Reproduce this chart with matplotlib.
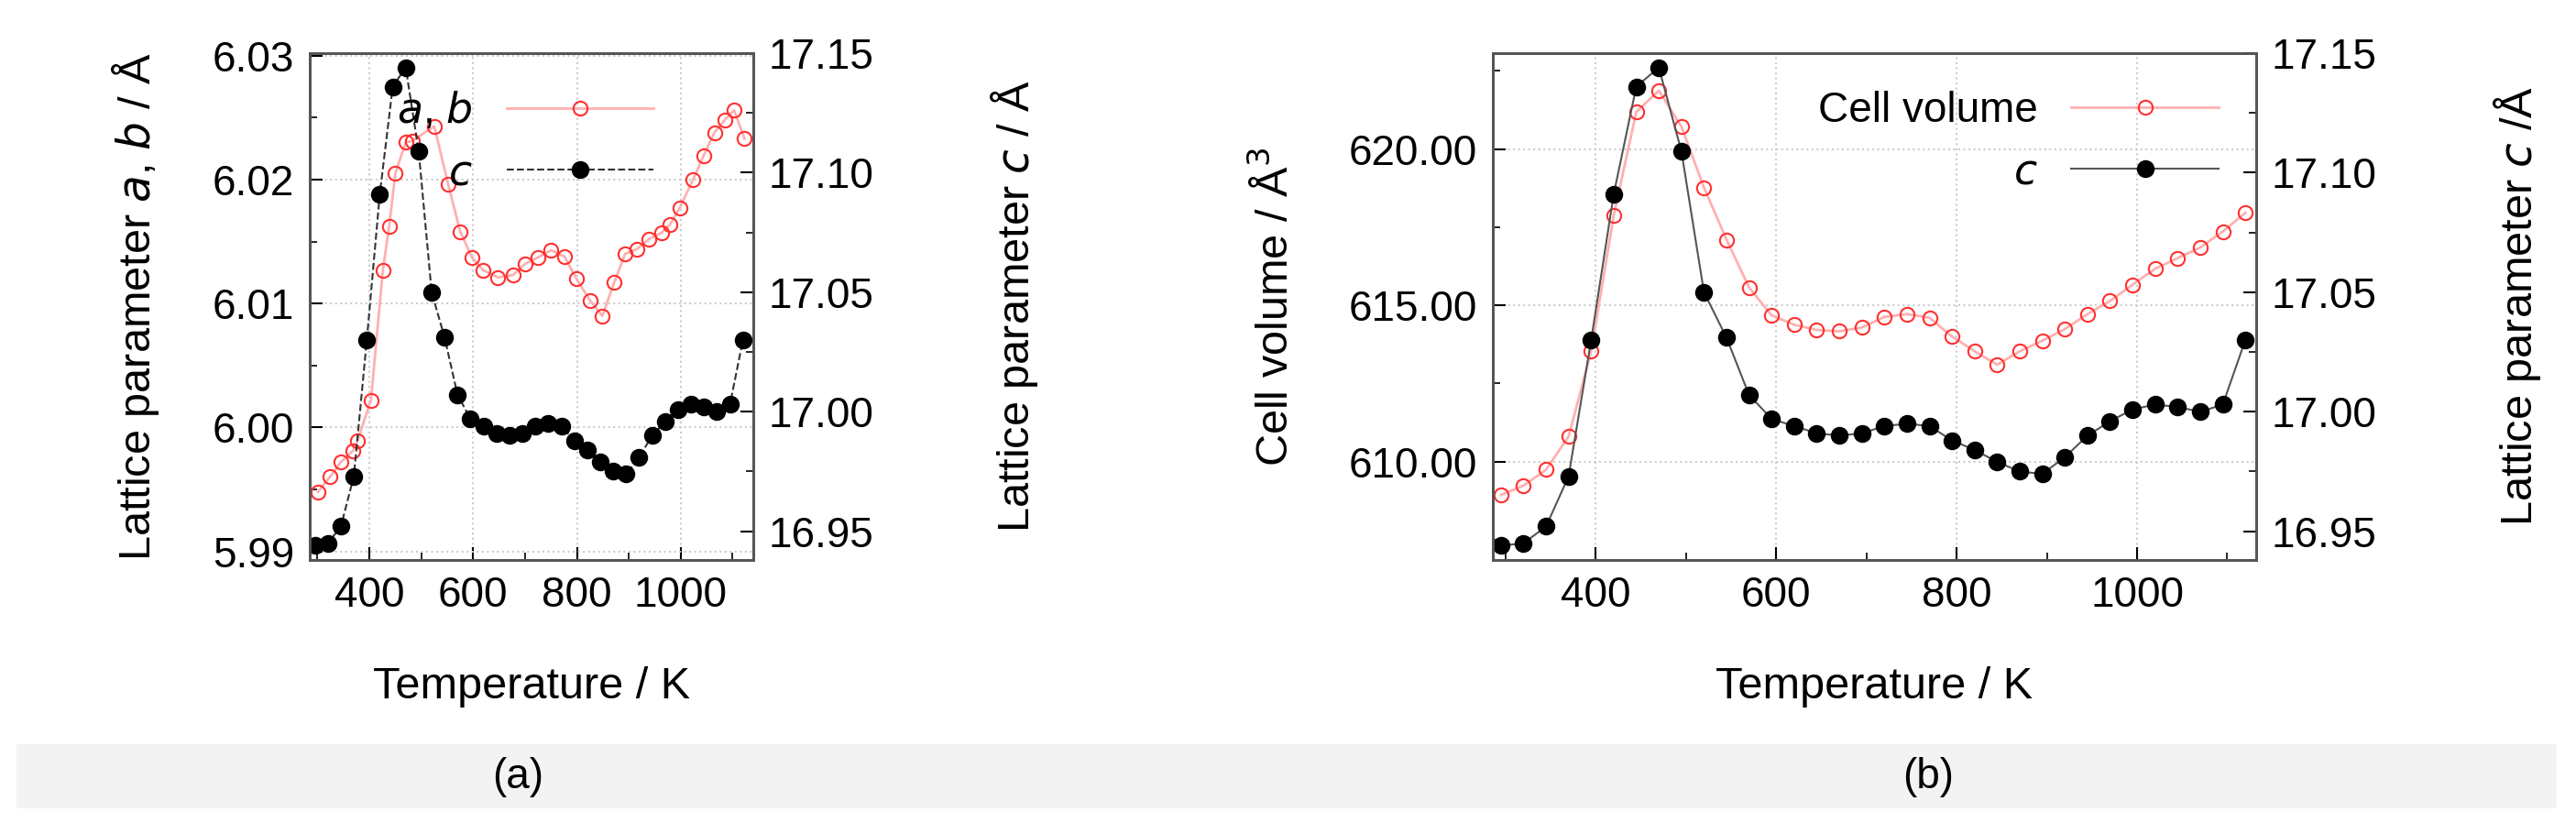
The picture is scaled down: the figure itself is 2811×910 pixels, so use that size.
import matplotlib
matplotlib.use("Agg")
import matplotlib.pyplot as plt
from matplotlib.patches import Rectangle
from matplotlib.ticker import MultipleLocator, FormatStrFormatter

plt.rcParams['font.family'] = ['Liberation Sans', 'DejaVu Sans']

# Panel (a): a, b lattice parameter
T_ab = [301, 324, 345, 368, 377, 403, 426, 438, 450, 470, 482, 525, 552, 575, 598, 619, 648, 677, 700,
        724, 750, 776, 799, 826, 849, 872, 893, 916, 939, 963, 980, 998, 1024, 1044, 1065, 1085, 1103, 1123]
ab = [5.9948, 5.9960, 5.9972, 5.9981, 5.9989, 6.0022, 6.0127, 6.0162, 6.0205, 6.0230, 6.0231, 6.0243,
      6.0196, 6.0158, 6.0137, 6.0127, 6.0121, 6.0123, 6.0132, 6.0137, 6.0143, 6.0138, 6.0120, 6.0102,
      6.0090, 6.0117, 6.0140, 6.0144, 6.0152, 6.0157, 6.0164, 6.0177, 6.0200, 6.0219, 6.0238, 6.0248,
      6.0256, 6.0233]

# c lattice parameter and cell volume
T = [295, 320, 345, 370, 395, 420, 445, 470, 495, 520, 545, 570, 595, 620, 645, 670, 695, 720,
     745, 770, 795, 820, 845, 870, 895, 920, 945, 970, 995, 1020, 1045, 1070, 1095, 1120]
c = [16.944, 16.945, 16.952, 16.973, 17.030, 17.091, 17.136, 17.144, 17.109, 17.050, 17.031, 17.007,
     16.997, 16.994, 16.991, 16.990, 16.991, 16.994, 16.995, 16.994, 16.988, 16.984, 16.979, 16.975,
     16.974, 16.981, 16.990, 16.996, 17.001, 17.003, 17.002, 17.000, 17.003, 17.030]
V = [608.93, 609.23, 609.74, 610.80, 613.53, 617.87, 621.19, 621.87, 620.72, 618.77, 617.10, 615.57,
     614.68, 614.38, 614.21, 614.17, 614.29, 614.63, 614.72, 614.60, 614.00, 613.53, 613.10, 613.53,
     613.87, 614.24, 614.72, 615.14, 615.66, 616.17, 616.51, 616.85, 617.36, 617.96]

W, H = 2811, 910
fig = plt.figure(figsize=(W/100, H/100), dpi=100)
fig.patches.append(Rectangle((18/W, 1-882/H), (2790-18)/W, 70/H, transform=fig.transFigure,
                             facecolor='#f3f3f3', edgecolor='none', zorder=0))

FS = 33
red = '#ff3030'
pink = '#ffb0b0'

def style(ax):
    ax.tick_params(direction='in', labelsize=FS, length=10, width=1.5, pad=12)
    ax.tick_params(which='minor', direction='in', length=6, width=1.2)
    for s in ax.spines.values():
        s.set_color('#555555'); s.set_linewidth(2)

def rect(x0, x1, y0, y1):
    return [x0/W, 1-y1/H, (x1-x0)/W, (y1-y0)/H]

# ---- panel (a)
ax1 = fig.add_axes(rect(338, 822, 58, 611))
ax1.plot(T_ab, ab, color=pink, lw=2, marker='o', ms=11, mfc='none', mec=red, mew=1.5,
         label=r'$\it{a}$, $\it{b}$')
ax1.set_xlim(285, 1140)
ax1.set_ylim(5.9893, 6.0302)
ax1.yaxis.set_major_locator(MultipleLocator(0.01))
ax1.yaxis.set_minor_locator(MultipleLocator(0.005))
ax1.yaxis.set_major_formatter(FormatStrFormatter('%.2f'))
ax1.xaxis.set_major_locator(MultipleLocator(200))
ax1.xaxis.set_minor_locator(MultipleLocator(100))
ax1.grid(True, color='#cccccc', ls=':', lw=1.5)
ax1.set_xlabel('Temperature / K', fontsize=FS+2, labelpad=40)
ax1.set_ylabel(r'Lattice parameter $\it{a}$, $\it{b}$ / Å', fontsize=FS+2, labelpad=40)
style(ax1)
ax1r = ax1.twinx()
ax1r.plot(T, c, color='#333333', lw=1.5, ls='--', marker='o', ms=13, mfc='black', mec='black',
          label=r'$\it{c}$')
ax1r.set_ylim(16.938, 17.15)
ax1r.yaxis.set_major_locator(MultipleLocator(0.05))
ax1r.yaxis.set_minor_locator(MultipleLocator(0.025))
ax1r.yaxis.set_major_formatter(FormatStrFormatter('%.2f'))
ax1r.set_ylabel(r'Lattice parameter $\it{c}$ / Å', fontsize=FS+2, labelpad=90)
style(ax1r)
h1, l1 = ax1.get_legend_handles_labels()
h2, l2 = ax1r.get_legend_handles_labels()
ax1r.legend(h1+h2, l1+l2, loc='upper right', bbox_to_anchor=(0.86, 1.0), frameon=False,
            markerfirst=False, fontsize=FS, handlelength=3.5, labelspacing=0.5)
fig.text(565/W, 1-848/H, '(a)', fontsize=FS, ha='center', va='center')

# ---- panel (b)
ax2 = fig.add_axes(rect(1629, 2462, 58, 611))
ax2.plot(T, V, color=pink, lw=2, marker='o', ms=11, mfc='none', mec=red, mew=1.5,
         label='Cell volume')
ax2.set_xlim(286, 1132)
ax2.set_ylim(606.85, 623.07)
ax2.yaxis.set_major_locator(MultipleLocator(5))
ax2.yaxis.set_minor_locator(MultipleLocator(2.5))
ax2.yaxis.set_major_formatter(FormatStrFormatter('%.2f'))
ax2.xaxis.set_major_locator(MultipleLocator(200))
ax2.xaxis.set_minor_locator(MultipleLocator(100))
ax2.grid(True, color='#cccccc', ls=':', lw=1.5)
ax2.set_xlabel('Temperature / K', fontsize=FS+2, labelpad=40)
ax2.set_ylabel('Cell volume / Å$^3$', fontsize=FS+2, labelpad=40)
style(ax2)
ax2r = ax2.twinx()
ax2r.plot(T, c, color='#555555', lw=1.5, marker='o', ms=13, mfc='black', mec='black',
          label=r'$\it{c}$')
ax2r.set_ylim(16.938, 17.15)
ax2r.yaxis.set_major_locator(MultipleLocator(0.05))
ax2r.yaxis.set_minor_locator(MultipleLocator(0.025))
ax2r.yaxis.set_major_formatter(FormatStrFormatter('%.2f'))
ax2r.set_ylabel(r'Lattice parameter $\it{c}$ /Å', fontsize=FS+2, labelpad=90)
style(ax2r)
h1, l1 = ax2.get_legend_handles_labels()
h2, l2 = ax2r.get_legend_handles_labels()
ax2r.legend(h1+h2, l1+l2, loc='upper right', bbox_to_anchor=(1.0, 1.0), frameon=False,
            markerfirst=False, fontsize=FS, handlelength=3.5, labelspacing=0.5)
fig.text(2104/W, 1-848/H, '(b)', fontsize=FS, ha='center', va='center')

fig.savefig('out.png', dpi=100)
